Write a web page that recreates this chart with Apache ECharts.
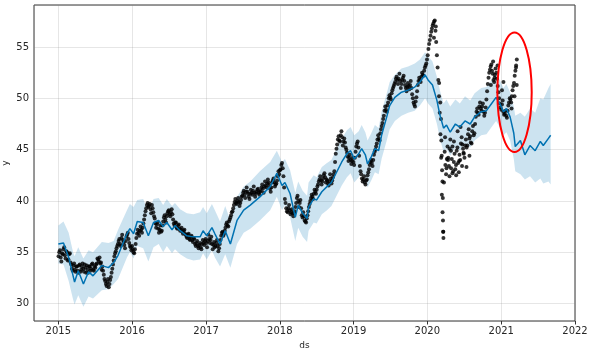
<!DOCTYPE html>
<html>
<head>
<meta charset="utf-8">
<script src="https://cdn.jsdelivr.net/npm/echarts@6.0.0/dist/echarts.min.js"></script>
<style>
  html, body { margin: 0; padding: 0; background: #fff; }
  #chart { width: 590px; height: 352px; }
</style>
</head>
<body>
<div id="chart"></div>
<script>
// observed y, one value per week starting 2015-01-02 (13 per row = one quarter)
var obsStart = Date.UTC(2015, 0, 2);
var obsWeekly = [
  34.6, 35.2, 34.1, 34.8, 35.5, 34.4, 35.0, 34.3, 34.9, 33.8, 33.2, 33.9, 33.1,
  33.6, 33.0, 33.8, 33.3, 33.9, 33.1, 33.5, 33.7, 33.0, 33.6, 33.4, 33.9, 33.2,
  33.5, 33.9, 34.3, 34.5, 34.0, 33.6, 32.8, 32.2, 31.7, 32.4, 31.9, 32.6, 33.4,
  34.2, 34.9, 35.4, 35.8, 36.3, 35.6, 36.7, 36.0, 35.4, 36.5, 36.9, 35.9, 35.5,
  35.6, 35.0, 35.3, 36.4, 37.2, 36.6, 37.5, 36.9, 37.8, 38.6, 39.3, 39.8, 39.5,
  39.2, 39.6, 38.9, 38.3, 37.4, 37.9, 36.9, 37.6, 37.1, 38.0, 38.6, 37.9, 38.8,
  39.1, 38.5, 39.2, 38.2, 37.6, 37.9, 37.3, 37.7, 37.1, 37.4, 36.8, 37.2, 36.7,
  36.4, 36.8, 36.2, 36.6, 36.0, 36.3, 35.6, 36.1, 35.4, 35.9, 35.3, 36.2, 35.7,
  36.3, 35.5, 36.7, 35.9, 36.5, 35.3, 36.0, 35.6, 36.2, 35.1, 35.8, 36.6, 37.0,
  36.8, 37.4, 37.9, 37.5, 38.2, 38.6, 39.0, 39.6, 40.2, 39.7, 40.3, 39.5, 40.1,
  40.5, 41.0, 40.3, 41.3, 40.7, 40.2, 41.1, 40.6, 41.4, 40.4, 40.9, 41.2, 40.6,
  41.0, 41.6, 40.8, 41.9, 41.3, 42.1, 41.5, 40.9, 41.8, 42.2, 41.4, 41.7, 42.4,
  42.6, 43.1, 43.7, 42.4, 40.2, 39.3, 38.9, 39.6, 38.7, 39.2, 38.5, 39.0, 39.8,
  40.5, 39.4, 40.1, 38.6, 38.9, 38.1, 37.9, 38.6, 39.4, 40.0, 40.6, 40.2, 41.1,
  40.7, 41.4, 41.9, 42.4, 41.6, 42.2, 42.7, 41.8, 42.0, 41.5, 42.6, 41.7, 42.3,
  42.9, 44.6, 45.5, 46.3, 45.8, 46.8, 45.4, 46.1, 45.2, 44.7, 43.9, 44.5, 43.6,
  44.2, 43.5, 44.8, 45.6, 45.2, 43.4, 42.6, 41.9, 42.4, 41.6, 42.1, 42.8, 43.5,
  44.0, 43.4, 44.5, 45.0, 45.6, 46.4, 45.9, 47.0, 47.6, 48.3, 49.2, 48.7, 49.6,
  50.3, 49.9, 50.8, 51.2, 51.6, 52.1, 51.4, 52.4, 51.0, 51.8, 52.2, 51.3, 50.7,
  51.5, 50.9, 51.7, 50.4, 49.6, 49.2, 50.1, 51.3, 52.0, 51.6, 52.5, 52.2, 53.0,
  53.4, 54.2, 55.3, 56.1, 56.8, 57.3, 57.6, 55.5, 53.0, 50.2, 46.5, 40.6, 37.0,
  44.8, 42.6, 45.3, 43.4, 46.0, 44.1, 42.9, 44.6, 43.5, 45.2, 42.8, 44.0, 46.2,
  45.1, 44.2, 46.0, 45.4, 47.0, 46.3, 45.6, 47.3, 46.6, 48.2, 49.0, 48.4, 49.6,
  48.8, 49.5, 48.3, 49.1, 50.7, 52.0, 52.8, 53.3, 52.4, 51.6, 52.9, 51.9, 50.6,
  49.5, 48.9, 49.8, 48.4, 48.8, 48.1, 49.3, 50.0, 49.6, 50.8, 51.5, 52.7, 53.8
];
// second reading per week, half a week later (same layout)
var obsMidweek = [
  35.0, 34.5, 34.9, 35.3, 34.7, 35.1, 34.2, 34.8, 34.0, 33.4, 33.7, 33.3, 33.6,
  33.2, 33.7, 33.1, 33.6, 33.4, 33.8, 33.0, 33.3, 33.6, 33.2, 33.8, 33.3, 33.6,
  33.8, 34.4, 34.1, 33.9, 33.3, 33.2, 32.4, 31.9, 32.1, 31.6, 32.3, 33.0, 33.8,
  34.6, 35.1, 35.6, 36.1, 35.8, 36.4, 36.2, 35.7, 36.1, 36.7, 36.3, 35.6, 35.2,
  35.3, 34.9, 35.8, 36.8, 36.9, 37.1, 37.2, 37.4, 38.2, 39.0, 39.6, 39.4, 39.7,
  38.8, 39.3, 38.5, 37.8, 37.7, 37.3, 37.2, 37.0, 37.6, 38.4, 38.2, 38.5, 39.0,
  38.7, 38.9, 38.7, 37.8, 37.9, 37.4, 37.6, 37.3, 37.2, 37.0, 37.1, 36.8, 36.5,
  36.7, 36.3, 36.5, 36.2, 36.4, 35.8, 35.9, 35.6, 35.7, 35.5, 35.8, 35.9, 36.1,
  35.9, 36.1, 36.3, 36.2, 35.8, 35.7, 35.5, 35.9, 35.6, 35.4, 36.2, 36.9, 36.6,
  37.1, 37.7, 37.6, 38.0, 38.4, 38.9, 39.3, 39.9, 39.8, 40.0, 39.9, 39.8, 40.4,
  40.8, 40.6, 40.9, 40.9, 40.4, 40.7, 40.8, 41.0, 40.8, 40.7, 41.1, 40.8, 40.9,
  41.3, 41.2, 41.4, 41.5, 41.7, 41.8, 41.2, 41.3, 42.0, 41.8, 41.6, 42.0, 42.9,
  43.0, 43.5, 43.2, 41.3, 39.8, 39.0, 39.3, 39.1, 38.9, 38.8, 38.8, 39.4, 40.3,
  40.0, 39.8, 39.3, 38.4, 38.5, 38.0, 38.3, 39.0, 39.7, 40.3, 40.4, 40.7, 40.9,
  41.1, 41.6, 42.1, 42.0, 41.9, 42.5, 42.3, 42.1, 41.7, 41.9, 42.2, 42.0, 42.6,
  43.8, 45.1, 46.0, 45.9, 46.4, 46.2, 45.8, 45.7, 45.0, 44.3, 44.2, 44.0, 43.9,
  43.8, 44.2, 45.3, 45.8, 44.4, 42.9, 42.2, 42.1, 41.8, 42.0, 42.5, 43.1, 43.8,
  43.7, 44.0, 44.8, 45.3, 46.0, 46.1, 46.6, 47.3, 48.0, 48.8, 48.9, 49.3, 50.0,
  50.1, 50.5, 51.0, 51.4, 51.9, 51.8, 51.9, 51.7, 51.4, 52.0, 51.7, 51.0, 51.1,
  51.2, 51.3, 51.0, 50.0, 49.4, 49.7, 50.7, 51.7, 51.8, 52.1, 52.3, 52.7, 53.2,
  53.8, 54.8, 55.7, 56.5, 57.1, 57.5, 56.6, 54.2, 51.8, 48.6, 44.2, 38.9, 41.8,
  43.5, 44.1, 44.2, 45.1, 43.2, 45.3, 43.8, 43.1, 44.9, 43.7, 44.5, 45.6, 45.5,
  44.6, 45.4, 45.2, 46.5, 46.1, 45.7, 46.8, 46.4, 47.5, 48.7, 48.6, 49.2, 49.0,
  49.2, 48.7, 48.6, 49.9, 51.4, 52.5, 53.1, 52.7, 51.8, 52.3, 52.5, 51.2, 50.0,
  49.1, 49.4, 48.7, 48.5, 48.3, 48.8, 49.6, 49.9, 50.2, 51.2, 52.2, 53.2
];

// extra single days in the volatile 2020-2021 stretch (decimal year, value)
var obsExtraT = [2020.09, 2020.115, 2020.16, 2020.175, 2020.185, 2020.19, 2020.195, 2020.20, 2020.205,
  2020.21, 2020.212, 2020.215, 2020.218, 2020.24, 2020.26, 2020.28, 2020.30, 2020.32, 2020.34,
  2020.36, 2020.39, 2020.41, 2020.43, 2020.45, 2020.47, 2020.49, 2020.53, 2020.57,
  2020.86, 2020.89, 2020.91, 2020.95, 2021.01, 2021.03, 2021.14, 2021.18, 2021.20, 2021.21];
var obsExtraV = [55.9, 57.0, 51.5, 49.6, 48.0, 45.9, 44.4, 43.0, 41.9,
  40.3, 38.1, 37.0, 36.4, 46.2, 43.2, 44.0, 42.4, 44.9, 42.7,
  45.8, 42.5, 46.8, 43.9, 47.2, 43.4, 44.7, 43.3, 44.4,
  51.3, 53.6, 52.0, 53.2, 50.8, 51.6, 49.0, 50.2, 53.0, 51.3];

// model fit / forecast (decimal years)
var fcT = [2015.00, 2015.07, 2015.14, 2015.20, 2015.22, 2015.27, 2015.34, 2015.41, 2015.47, 2015.59,
  2015.68, 2015.75, 2015.81, 2015.93, 2015.97, 2016.02, 2016.07, 2016.15, 2016.22, 2016.29,
  2016.36, 2016.42, 2016.47, 2016.54, 2016.58, 2016.65, 2016.74, 2016.83, 2016.92, 2016.96,
  2017.01, 2017.08, 2017.12, 2017.19, 2017.26, 2017.33, 2017.42, 2017.51, 2017.60, 2017.73,
  2017.87, 2017.96, 2018.03, 2018.07, 2018.14, 2018.21, 2018.25, 2018.31, 2018.37, 2018.39,
  2018.46, 2018.50, 2018.57, 2018.64, 2018.70, 2018.77, 2018.84, 2018.91, 2018.96, 2019.01,
  2019.07, 2019.11, 2019.16, 2019.19, 2019.24, 2019.29, 2019.34, 2019.38, 2019.45, 2019.49,
  2019.56, 2019.65, 2019.74, 2019.83, 2019.90, 2019.97, 2020.01, 2020.07, 2020.13, 2020.17,
  2020.22, 2020.26, 2020.31, 2020.38, 2020.44, 2020.51, 2020.58, 2020.64, 2020.73, 2020.80,
  2020.87, 2020.93, 2020.98, 2021.03, 2021.07, 2021.12, 2021.17, 2021.19, 2021.26, 2021.32,
  2021.39, 2021.46, 2021.53, 2021.57, 2021.64, 2021.67];
var fcYhat = [35.8, 35.9, 34.5, 32.7, 32.1, 33.2, 31.9, 33.1, 32.7, 33.7,
  33.5, 34.0, 34.7, 36.8, 37.3, 36.8, 38.0, 37.9, 36.6, 37.9,
  38.1, 37.5, 37.9, 37.2, 37.6, 37.1, 36.6, 36.5, 36.5, 37.1,
  36.6, 37.4, 36.8, 35.8, 37.1, 35.8, 38.1, 39.1, 39.6, 40.4,
  41.4, 42.7, 41.5, 41.8, 40.7, 38.4, 39.6, 38.8, 38.3, 39.4,
  40.2, 40.1, 40.9, 41.4, 41.8, 42.8, 43.8, 44.6, 44.9, 44.1,
  44.6, 45.1, 44.5, 43.6, 44.3, 45.1, 44.9, 46.4, 48.2, 49.3,
  50.1, 50.6, 50.8, 51.1, 51.6, 52.3, 51.8, 51.3, 49.8, 48.4,
  47.1, 47.4, 46.7, 47.5, 47.2, 47.8, 47.5, 48.2, 48.7, 48.8,
  49.5, 50.1, 49.5, 48.7, 49.0, 48.2, 46.6, 45.3, 45.9, 44.5,
  45.4, 44.9, 45.8, 45.4, 46.1, 46.4];
var fcUpper = [37.6, 38.0, 36.9, 35.0, 34.6, 35.5, 34.4, 35.2, 35.0, 36.0,
  35.9, 36.1, 37.2, 39.1, 39.7, 39.4, 40.1, 40.2, 38.9, 40.2,
  40.3, 39.6, 40.2, 39.5, 39.8, 39.2, 38.8, 38.7, 38.9, 39.4,
  38.8, 39.7, 39.1, 38.0, 39.5, 38.1, 40.4, 41.4, 41.9, 42.9,
  43.8, 44.9, 43.8, 44.1, 43.0, 40.8, 41.9, 41.0, 40.5, 41.8,
  42.5, 42.3, 43.3, 43.7, 44.0, 45.1, 46.1, 46.9, 47.2, 46.4,
  46.8, 47.4, 46.7, 45.9, 46.6, 47.4, 47.1, 48.7, 50.5, 51.6,
  52.3, 52.9, 53.1, 53.4, 53.8, 54.5, 54.1, 53.6, 52.1, 50.8,
  49.5, 49.9, 49.2, 49.9, 49.5, 50.2, 49.8, 50.5, 51.0, 51.1,
  51.8, 52.4, 51.8, 51.0, 51.4, 50.6, 49.2, 48.3, 48.6, 48.2,
  49.0, 48.6, 50.0, 49.9, 51.0, 51.4];
var fcLower = [33.9, 33.8, 32.2, 30.4, 29.9, 30.8, 29.7, 30.7, 30.5, 31.3,
  31.4, 31.9, 32.4, 34.5, 35.0, 34.4, 35.6, 35.4, 34.1, 35.5,
  35.8, 35.0, 35.6, 34.9, 35.3, 34.8, 34.4, 34.2, 34.3, 34.9,
  34.3, 35.2, 34.5, 33.6, 34.8, 33.5, 35.8, 36.9, 37.3, 38.1,
  39.1, 40.4, 39.1, 39.6, 38.4, 36.1, 37.4, 36.5, 36.0, 37.1,
  37.9, 37.8, 38.7, 39.1, 39.5, 40.5, 41.5, 42.3, 42.7, 41.8,
  42.3, 42.9, 42.2, 41.3, 42.0, 42.8, 42.6, 44.1, 45.9, 47.0,
  47.8, 48.3, 48.6, 48.8, 49.3, 50.0, 49.5, 49.0, 47.5, 46.1,
  44.8, 45.1, 44.4, 45.2, 44.9, 45.5, 45.2, 45.9, 46.4, 46.5,
  47.2, 47.8, 47.2, 46.4, 46.7, 45.9, 44.1, 42.9, 42.6, 42.1,
  42.4, 41.8, 42.2, 41.7, 41.9, 41.6];

// red annotation ellipse: centre (decimal year, y) and half sizes (years, y units)
var ringCenter = [2021.18, 50.6];
var ringRadius = [0.233, 5.83];

var xRange = [2014.67, 2022.0];
var yRange = [28.3, 59.1];

function yearToTime(t) {
    var y = Math.floor(t);
    var s = Date.UTC(y, 0, 1), e = Date.UTC(y + 1, 0, 1);
    return s + (t - y) * (e - s);
}

var DAY = 864e5;
var obsData = obsWeekly.map(function (v, i) { return [obsStart + i * 7 * DAY, v]; });
obsMidweek.forEach(function (v, i) { obsData.push([obsStart + (i * 7 + 3.5) * DAY, v]); });
obsExtraT.forEach(function (t, i) { obsData.push([yearToTime(t), obsExtraV[i]]); });

var lowerData = fcT.map(function (t, i) { return [yearToTime(t), fcLower[i]]; });
var spanData = fcT.map(function (t, i) { return [yearToTime(t), +(fcUpper[i] - fcLower[i]).toFixed(2)]; });
var yhatData = fcT.map(function (t, i) { return [yearToTime(t), fcYhat[i]]; });
var ringRx = yearToTime(ringCenter[0] + ringRadius[0]) - yearToTime(ringCenter[0]);

var textColor = '#262626';
var gridColor = 'rgba(128,128,128,0.2)';

var myChart = echarts.init(document.getElementById('chart'));
var option = {
    animation: false,
    textStyle: { fontFamily: 'DejaVu Sans' },
    grid: {
        left: 34, right: 15, top: 5, bottom: 31,
        outerBoundsMode: 'none',
        containLabel: false,
        show: true, borderColor: '#333', borderWidth: 1
    },
    xAxis: {
        type: 'time',
        min: yearToTime(xRange[0]),
        max: yearToTime(xRange[1]),
        minInterval: 365 * DAY,
        maxInterval: 366 * DAY,
        name: 'ds',
        nameLocation: 'middle',
        nameGap: 20,
        nameMoveOverlap: false,
        nameTextStyle: { color: textColor, fontSize: 9 },
        axisLine: { show: false },
        axisTick: { length: 3.5, lineStyle: { color: '#333' } },
        axisLabel: {
            formatter: '{yyyy}', color: textColor, fontSize: 10, margin: 5,
            showMinLabel: false, showMaxLabel: true, hideOverlap: false
        },
        splitLine: { show: true, lineStyle: { color: gridColor, width: 1 } }
    },
    yAxis: {
        type: 'value',
        min: yRange[0],
        max: yRange[1],
        name: 'y',
        nameLocation: 'middle',
        nameGap: 24,
        nameRotate: 90,
        nameMoveOverlap: false,
        nameTextStyle: { color: textColor, fontSize: 9 },
        axisLine: { show: false },
        axisTick: { length: 3.5, lineStyle: { color: '#333' } },
        axisLabel: { color: textColor, fontSize: 10, margin: 5, showMinLabel: false, showMaxLabel: false },
        splitLine: { show: true, lineStyle: { color: gridColor, width: 1 } }
    },
    series: [
        {
            // lower bound (invisible base of the interval band)
            type: 'line', stack: 'ci', data: lowerData,
            symbol: 'none', lineStyle: { opacity: 0 }, silent: true, z: 1
        },
        {
            // uncertainty interval
            type: 'line', stack: 'ci', data: spanData,
            symbol: 'none', lineStyle: { opacity: 0 },
            areaStyle: { color: 'rgba(0,114,178,0.2)', opacity: 1 }, silent: true, z: 1
        },
        {
            // observed points
            type: 'scatter', data: obsData,
            symbolSize: 4, itemStyle: { color: '#000' }, silent: true, z: 3
        },
        {
            // yhat
            type: 'line', data: yhatData,
            symbol: 'none', lineStyle: { color: '#0072B2', width: 1.5 }, silent: true, z: 4
        },
        {
            // highlight ring
            type: 'custom', clip: false, z: 5, silent: true,
            data: [[yearToTime(ringCenter[0]), ringCenter[1], ringRx, ringRadius[1]]],
            encode: { x: 0, y: 1 },
            renderItem: function (params, api) {
                var c = api.coord([api.value(0), api.value(1)]);
                var s = api.size([api.value(2), api.value(3)]);
                return {
                    type: 'ellipse',
                    shape: { cx: c[0], cy: c[1], rx: s[0], ry: s[1] },
                    style: { fill: 'none', stroke: '#ff0000', lineWidth: 2 }
                };
            }
        }
    ]
};
myChart.setOption(option);

window.addEventListener('resize', function () {
    myChart.resize();
});
</script>
</body>
</html>
